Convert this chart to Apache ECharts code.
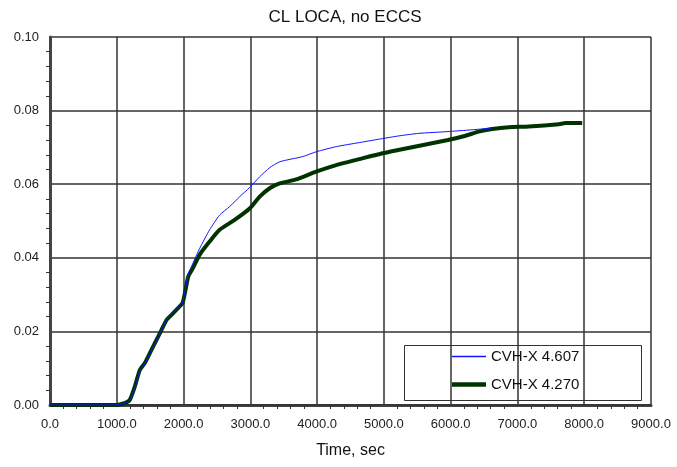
<!DOCTYPE html>
<html>
<head>
<meta charset="utf-8">
<script src="https://cdn.jsdelivr.net/npm/echarts@6/dist/echarts.min.js"></script>
<style>html,body{margin:0;padding:0;background:#fff;}#c{width:677px;height:467px;}</style>
</head>
<body>
<div id="c"></div>
<script>
const title = 'CL LOCA, no ECCS';
const xName = 'Time, sec';
const seriesNames = ['CVH-X 4.607', 'CVH-X 4.270'];
const blueT = [0, 1000, 1060, 1120, 1195, 1270, 1345, 1420, 1495, 1570, 1670, 1745, 1820, 1920, 1985, 2030, 2070, 2140, 2240, 2390, 2540, 2690, 2840, 2990, 3140, 3290, 3440, 3785, 3985, 4285, 4630, 4980, 5215, 5515, 5960, 6260, 6600];
const blueV = [0, 0, 0.0002, 0.0005, 0.0012, 0.0045, 0.0092, 0.0112, 0.0140, 0.0167, 0.0204, 0.0231, 0.0247, 0.0266, 0.0280, 0.0318, 0.0356, 0.0385, 0.0425, 0.0476, 0.0516, 0.0539, 0.0566, 0.0591, 0.0620, 0.0645, 0.0661, 0.0675, 0.0688, 0.0702, 0.0713, 0.0724, 0.0731, 0.0738, 0.0743, 0.0747, 0.0752];
const greenT = [0, 1000, 1060, 1120, 1195, 1270, 1345, 1420, 1495, 1570, 1670, 1745, 1820, 1920, 1985, 2030, 2070, 2140, 2240, 2390, 2540, 2765, 2990, 3140, 3290, 3440, 3690, 3985, 4285, 4630, 4980, 5215, 5515, 5960, 6210, 6420, 6620, 6870, 7170, 7620, 7720, 7970];
const greenV = [0, 0, 0.0002, 0.0005, 0.0014, 0.0050, 0.0095, 0.0114, 0.0141, 0.0168, 0.0204, 0.0231, 0.0245, 0.0264, 0.0277, 0.0313, 0.0349, 0.0372, 0.0408, 0.0444, 0.0476, 0.0503, 0.0534, 0.0566, 0.0589, 0.0602, 0.0613, 0.0634, 0.0652, 0.0668, 0.0684, 0.0693, 0.0704, 0.0720, 0.0731, 0.0743, 0.0750, 0.0755, 0.0757, 0.0763, 0.0766, 0.0766];
const xTicks = {min: 0, max: 9000, interval: 1000};
const yTicks = {min: 0, max: 0.10, interval: 0.02};

const font = 'Liberation Sans, Arial, sans-serif';
const blue = '#1414ff';
const green = '#003300';
const chart = echarts.init(document.getElementById('c'), null, {renderer: 'canvas'});
const zip = (a, b) => a.map((t, i) => [t, b[i]]);
const grid = {left: 50, top: 37, right: 26, bottom: 62};
const thinIcon = 'path://M0,0 M0,6.2 L34,6.2 L34,7.8 L0,7.8 Z M34,14';
const thickIcon = 'path://M0,0 M0,4.8 L34,4.8 L34,9.2 L0,9.2 Z M34,14';
chart.setOption({
  animation: false,
  backgroundColor: '#fff',
  title: {text: title, left: 340, textAlign: 'center', top: 4,
    textStyle: {fontFamily: font, fontSize: 17, fontWeight: 'normal', color: '#111'}},
  grid: grid,
  legend: {
    orient: 'vertical', left: 447, top: 344, itemWidth: 34, itemHeight: 14, itemGap: 13,
    symbolKeepAspect: false,
    data: [
      {name: seriesNames[0], icon: thinIcon, itemStyle: {color: blue, borderWidth: 0}},
      {name: seriesNames[1], icon: thickIcon, itemStyle: {color: green, borderWidth: 0}}
    ],
    textStyle: {fontFamily: font, fontSize: 15, color: '#111'}
  },
  graphic: [{type: 'rect', left: 402, top: 343, shape: {width: 237, height: 55},
    style: {fill: 'none', stroke: '#333', lineWidth: 1}, z: 1}],
  xAxis: [{
    type: 'value', min: xTicks.min, max: xTicks.max, interval: xTicks.interval,
    name: xName, nameLocation: 'middle', nameGap: 38,
    nameTextStyle: {fontFamily: font, fontSize: 16, color: '#111'},
    axisLabel: {formatter: v => v.toFixed(1), fontFamily: font, fontSize: 13, color: '#222', margin: 13},
    axisLine: {show: true, lineStyle: {color: '#444', width: 3}},
    axisTick: {show: false},
    minorTick: {show: true, splitNumber: 5, length: 4, lineStyle: {color: '#333', width: 1}},
    splitLine: {show: true, lineStyle: {color: '#333', width: 1.5}}
  }, {
    type: 'value', position: 'top', min: xTicks.min, max: xTicks.max, interval: xTicks.interval,
    axisLabel: {show: false}, axisTick: {show: false}, splitLine: {show: false},
    axisLine: {show: true, lineStyle: {color: '#333', width: 1.5}}
  }],
  yAxis: [{
    type: 'value', min: yTicks.min, max: yTicks.max, interval: yTicks.interval,
    axisLabel: {formatter: v => v.toFixed(2), fontFamily: font, fontSize: 13, color: '#222', margin: 11},
    axisLine: {show: true, lineStyle: {color: '#333', width: 1.5}},
    axisTick: {show: false},
    minorTick: {show: true, splitNumber: 5, length: 4, lineStyle: {color: '#333', width: 1}},
    splitLine: {show: true, lineStyle: {color: '#333', width: 1.5}}
  }, {
    type: 'value', position: 'right', min: yTicks.min, max: yTicks.max, interval: yTicks.interval,
    axisLabel: {show: false}, axisTick: {show: false}, splitLine: {show: false},
    axisLine: {show: true, lineStyle: {color: '#444', width: 3}}
  }],
  series: [{
    name: seriesNames[0], type: 'line', data: zip(blueT, blueV), symbol: 'none', smooth: 0.2,
    lineStyle: {color: blue, width: 1}, itemStyle: {color: blue}, z: 3
  }, {
    name: seriesNames[1], type: 'line', data: zip(greenT, greenV), symbol: 'none', smooth: 0.2,
    lineStyle: {color: green, width: 4}, itemStyle: {color: green}, z: 2
  }]
});
</script>
</body>
</html>
